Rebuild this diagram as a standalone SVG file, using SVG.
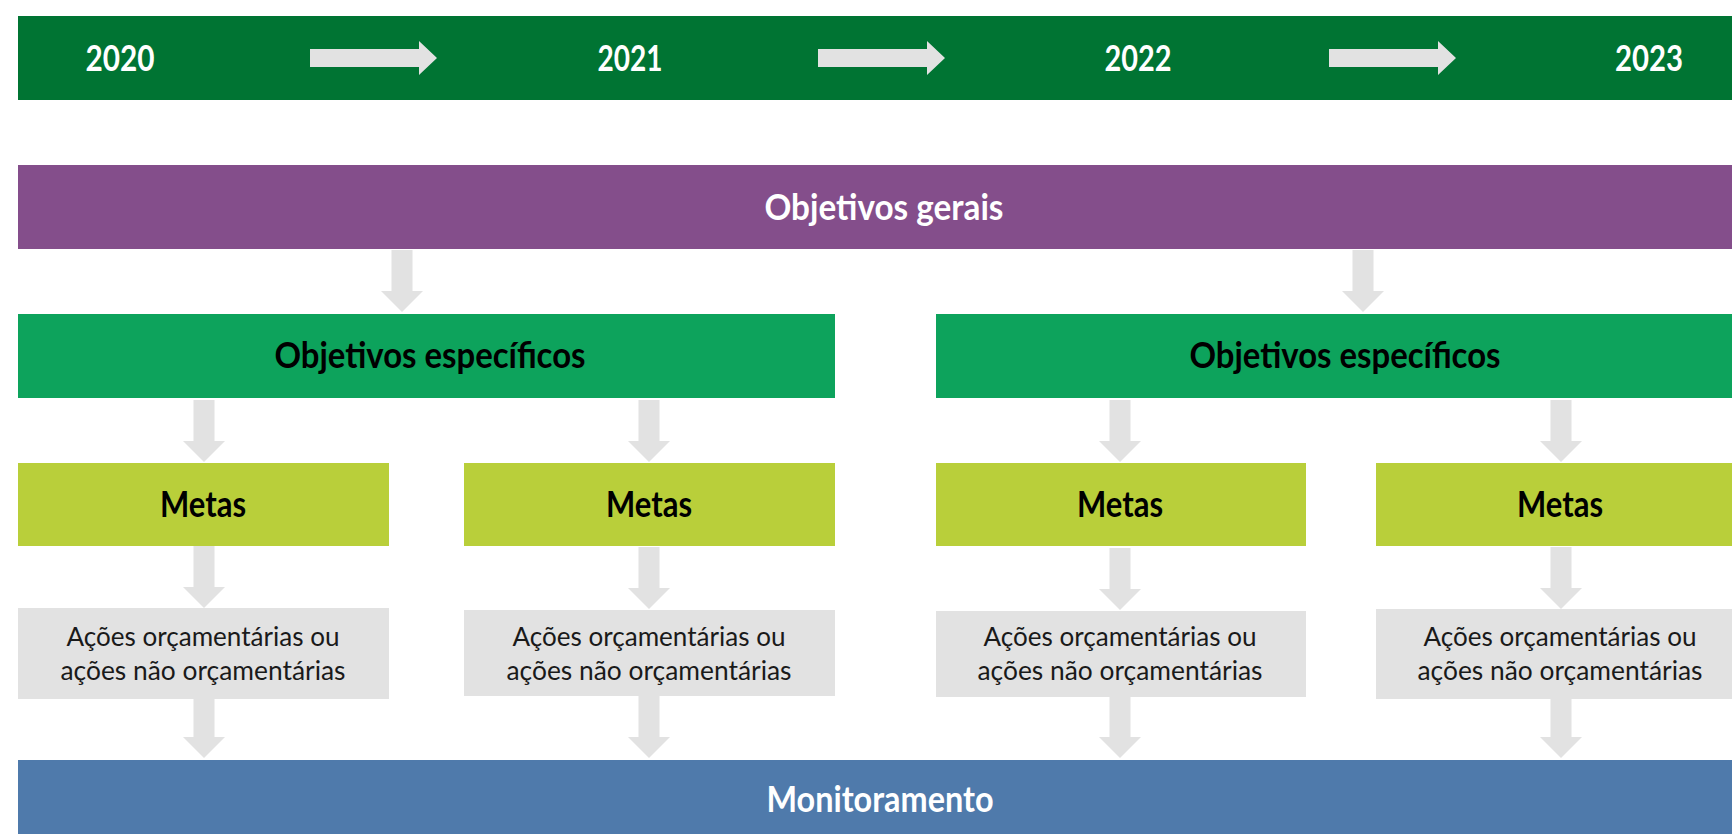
<svg xmlns="http://www.w3.org/2000/svg" xmlns:xlink="http://www.w3.org/1999/xlink" width="1732" height="834" viewBox="0 0 1732 834">
<style>
.b{font-family:Lato,"Noto Sans","Liberation Sans",sans-serif;font-weight:bold;font-size:36px;text-anchor:middle}
.n{font-family:Lato,"Noto Sans","Liberation Sans",sans-serif;font-weight:normal;font-size:26.5px;text-anchor:middle;fill:#1a1a1a}
.w{fill:#ffffff}
.k{fill:#000000}
.arr{fill:#e2e2e2}
</style>
<defs>
<path id="down" d="M-10.5,-62 H10.5 V-21 H21 L0,0 L-21,-21 H-10.5 Z"/>
<path id="right" d="M0,-9 H109 V-17 L127,0 L109,17 V9 H0 Z"/>
</defs>
<rect width="1732" height="834" fill="#ffffff"/>
<g id="years">
<rect x="18" y="16" width="1732" height="84" fill="#007433"/>
<text class="b w" x="120" y="70.5" textLength="69" lengthAdjust="spacingAndGlyphs">2020</text>
<text class="b w" x="630" y="70.5" textLength="65" lengthAdjust="spacingAndGlyphs">2021</text>
<text class="b w" x="1138" y="70.5" textLength="67" lengthAdjust="spacingAndGlyphs">2022</text>
<text class="b w" x="1649" y="70.5" textLength="68" lengthAdjust="spacingAndGlyphs">2023</text>
</g>
<g id="objetivos-gerais">
<rect x="18" y="165" width="1732" height="84" fill="#844e8b"/>
<text class="b w" x="884" y="219.5" textLength="239" lengthAdjust="spacingAndGlyphs">Objetivos gerais</text>
</g>
<g id="especificos-1">
<rect x="18" y="314" width="817" height="84" fill="#0da35c"/>
<text class="b k" x="430" y="368" textLength="311" lengthAdjust="spacingAndGlyphs">Objetivos específicos</text>
</g>
<g id="especificos-2">
<rect x="936" y="314" width="814" height="84" fill="#0da35c"/>
<text class="b k" x="1345" y="368" textLength="311" lengthAdjust="spacingAndGlyphs">Objetivos específicos</text>
</g>
<g id="metas-1">
<rect x="18" y="463" width="371" height="83" fill="#b9cf3a"/>
<text class="b k" x="203" y="517" textLength="86" lengthAdjust="spacingAndGlyphs">Metas</text>
</g>
<g id="metas-2">
<rect x="464" y="463" width="371" height="83" fill="#b9cf3a"/>
<text class="b k" x="649" y="517" textLength="86" lengthAdjust="spacingAndGlyphs">Metas</text>
</g>
<g id="metas-3">
<rect x="936" y="463" width="370" height="83" fill="#b9cf3a"/>
<text class="b k" x="1120" y="517" textLength="86" lengthAdjust="spacingAndGlyphs">Metas</text>
</g>
<g id="metas-4">
<rect x="1376" y="463" width="370" height="83" fill="#b9cf3a"/>
<text class="b k" x="1560" y="517" textLength="86" lengthAdjust="spacingAndGlyphs">Metas</text>
</g>
<g id="acoes-1">
<rect x="18" y="608" width="371" height="91" fill="#e2e2e2"/>
<text class="n" x="203" y="646" textLength="273" lengthAdjust="spacingAndGlyphs">Ações orçamentárias ou</text>
<text class="n" x="203" y="680" textLength="285" lengthAdjust="spacingAndGlyphs">ações não orçamentárias</text>
</g>
<g id="acoes-2">
<rect x="464" y="610" width="371" height="86" fill="#e2e2e2"/>
<text class="n" x="649" y="646" textLength="273" lengthAdjust="spacingAndGlyphs">Ações orçamentárias ou</text>
<text class="n" x="649" y="680" textLength="285" lengthAdjust="spacingAndGlyphs">ações não orçamentárias</text>
</g>
<g id="acoes-3">
<rect x="936" y="611" width="370" height="86" fill="#e2e2e2"/>
<text class="n" x="1120" y="646" textLength="273" lengthAdjust="spacingAndGlyphs">Ações orçamentárias ou</text>
<text class="n" x="1120" y="680" textLength="285" lengthAdjust="spacingAndGlyphs">ações não orçamentárias</text>
</g>
<g id="acoes-4">
<rect x="1376" y="609" width="370" height="90" fill="#e2e2e2"/>
<text class="n" x="1560" y="646" textLength="273" lengthAdjust="spacingAndGlyphs">Ações orçamentárias ou</text>
<text class="n" x="1560" y="680" textLength="285" lengthAdjust="spacingAndGlyphs">ações não orçamentárias</text>
</g>
<g id="monitoramento">
<rect x="18" y="760" width="1732" height="84" fill="#4f7aab"/>
<text class="b w" x="880" y="812" textLength="227" lengthAdjust="spacingAndGlyphs">Monitoramento</text>
</g>
<g id="connectors" class="arr">
<use xlink:href="#right" x="310" y="58"/>
<use xlink:href="#right" x="818" y="58"/>
<use xlink:href="#right" x="1329" y="58"/>
<use xlink:href="#down" x="402" y="312"/>
<use xlink:href="#down" x="1363" y="312"/>
<use xlink:href="#down" x="204" y="462"/>
<use xlink:href="#down" x="649" y="462"/>
<use xlink:href="#down" x="1120" y="462"/>
<use xlink:href="#down" x="1561" y="462"/>
<use xlink:href="#down" x="204" y="608"/>
<use xlink:href="#down" x="649" y="609"/>
<use xlink:href="#down" x="1120" y="610"/>
<use xlink:href="#down" x="1561" y="609"/>
<use xlink:href="#down" x="204" y="758"/>
<use xlink:href="#down" x="649" y="758"/>
<use xlink:href="#down" x="1120" y="758"/>
<use xlink:href="#down" x="1561" y="758"/>
</g>
</svg>
